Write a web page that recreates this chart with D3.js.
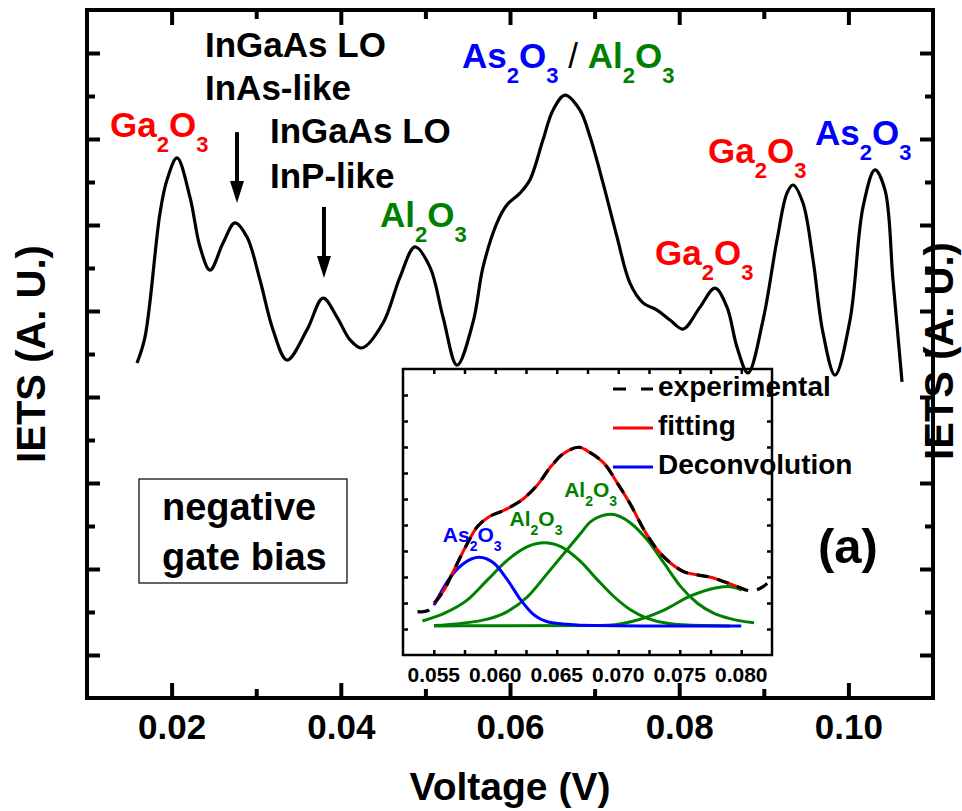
<!DOCTYPE html>
<html>
<head>
<meta charset="utf-8">
<script src="https://cdn.jsdelivr.net/npm/d3@7"></script>
<style>
  body { margin: 0; background: #fff; }
  svg text { font-family: "Liberation Sans", Arial, Helvetica, sans-serif; font-weight: bold; }
</style>
</head>
<body>
<svg id="chart" width="962" height="811"></svg>
<script>
// ---- Main IETS spectrum, negative gate bias ----
const voltage = [0.01591,0.01686,0.01863,0.01946,0.02064,0.02217,0.02336,0.02454,0.02608,0.02749,
  0.02891,0.03045,0.03199,0.03364,0.03600,0.03790,0.03955,0.04109,0.04251,0.04499,
  0.04700,0.04877,0.05054,0.05208,0.05374,0.05563,0.05681,0.05846,0.05965,0.06118,
  0.06236,0.06390,0.06508,0.06650,0.06827,0.06946,0.07099,0.07265,0.07418,0.07572,
  0.07738,0.07891,0.08045,0.08246,0.08423,0.08565,0.08683,0.08813,0.08991,0.09156,
  0.09274,0.09345,0.09463,0.09582,0.09700,0.09842,0.10019,0.10173,0.10314,0.10433,
  0.10527,0.10634];
const iets = [7.79,8.40,11.28,12.05,12.56,11.65,10.49,9.95,10.58,11.05,
  10.72,9.72,8.56,7.86,8.56,9.30,8.86,8.33,8.14,8.72,
  9.79,10.49,10.02,8.86,7.74,8.74,10.02,11.05,11.47,11.74,
  12.05,12.98,13.67,14.02,13.67,13.05,11.98,10.72,9.65,9.19,
  9.02,8.79,8.58,9.09,9.53,9.09,8.16,7.56,8.79,10.65,
  11.74,11.93,11.51,10.19,8.49,7.51,8.79,11.42,12.28,11.81,
  9.72,7.35];

const xMajor = [0.02, 0.04, 0.06, 0.08, 0.10];
const xMinor = [0.03, 0.05, 0.07, 0.09];
const yMajor = [1, 3, 5, 7, 9, 11, 13, 15];
const yMinor = [2, 4, 6, 8, 10, 12, 14];

// ---- Inset: 0.053-0.082 V region with peak deconvolution ----
const expV = [0.05368,0.05449,0.05516,0.05584,0.05665,0.05760,0.05855,0.05950,0.06045,0.06153,
  0.06234,0.06343,0.06451,0.06559,0.06681,0.06776,0.06885,0.06994,0.07102,0.07210,
  0.07319,0.07427,0.07535,0.07644,0.07752,0.07860,0.07969,0.08037,0.08102,0.08175,0.08240];
const expY = [1.67,1.70,2.05,2.50,3.27,4.17,4.94,5.32,5.51,5.77,
  6.03,6.54,7.24,7.76,7.99,7.77,7.37,6.60,5.77,4.81,
  4.04,3.53,3.20,3.08,2.99,2.82,2.63,2.50,2.48,2.62,2.88];

const fitV = [0.05502,0.05584,0.05665,0.05760,0.05855,0.05950,0.06045,0.06153,0.06234,0.06343,
  0.06451,0.06559,0.06681,0.06776,0.06885,0.06994,0.07102,0.07210,0.07319,0.07427,
  0.07535,0.07644,0.07752,0.07860,0.07969,0.08037];
const fitY = [2.00,2.50,3.27,4.17,4.94,5.32,5.51,5.77,6.03,6.54,
  7.24,7.76,7.99,7.77,7.37,6.60,5.77,4.81,4.04,3.53,
  3.20,3.08,2.99,2.82,2.63,2.50];

const as2o3V = [0.05502,0.05638,0.05746,0.05868,0.05990,0.06099,0.06207,0.06315,0.06424,0.06587,0.0680,0.0720,0.0760,0.0800];
const as2o3Y = [1.92,3.01,3.53,3.76,3.53,2.89,2.12,1.54,1.28,1.18,1.13,1.12,1.12,1.12];

const al2o3aV = [0.05408,0.05584,0.05774,0.05937,0.06099,0.06262,0.06397,0.06533,0.06695,0.06831,
  0.06966,0.07102,0.07237,0.07400,0.07671,0.07907];
const al2o3aY = [1.31,1.60,2.12,2.89,3.65,4.17,4.32,4.17,3.59,2.89,
  2.24,1.73,1.41,1.22,1.13,1.12];

const al2o3bV = [0.05502,0.05909,0.06099,0.06262,0.06424,0.06559,0.06695,0.06776,0.06939,0.07102,
  0.07237,0.07372,0.07508,0.07644,0.07779,0.07915,0.08104];
const al2o3bY = [1.13,1.35,1.67,2.24,3.14,3.91,4.68,5.13,5.41,5.07,
  4.42,3.53,2.63,1.99,1.60,1.39,1.24];

const al2o3cV = [0.05502,0.06858,0.07102,0.07372,0.07589,0.07779,0.07888,0.08004];
const al2o3cY = [1.12,1.13,1.28,1.73,2.27,2.57,2.63,2.50];

const insetXTicks = [0.055,0.0575,0.060,0.0625,0.065,0.0675,0.070,0.0725,0.075,0.0775,0.080];
const insetXLabels = [0.055,0.060,0.065,0.070,0.075,0.080];
const insetYTicks = [1,2,3,4,5,6,7,8,9,10];

const legendItems = ["experimental", "fitting", "Deconvolution"];

// ---- Layout ----
const svg = d3.select("#chart");
const P = { l: 87, r: 933, t: 10, b: 698 };
const x = d3.scaleLinear().domain([0.01, 0.11]).range([P.l, P.r]);
const y = d3.scaleLinear().domain([0, 16]).range([P.b, P.t]);

const I = { l: 403, r: 772, t: 369, b: 655 };
const ix = d3.scaleLinear().domain([0.0525, 0.0825]).range([I.l, I.r]);
const iy = d3.scaleLinear().domain([0, 11]).range([I.b, I.t]);

function tidy(g, w) {
  g.select(".domain").remove();
  g.selectAll(".tick line").attr("stroke", "#000").attr("stroke-width", w);
}

// ---- Main axes ----
svg.append("g").attr("transform", `translate(0,${P.b})`)
  .call(d3.axisBottom(x).tickValues(xMajor).tickSize(-15).tickPadding(16).tickFormat(d3.format(".2f")))
  .call(g => tidy(g, 4))
  .call(g => g.selectAll("text").attr("font-size", 35).attr("fill", "#000")
     .attr("font-family", "Liberation Sans, Arial, sans-serif").attr("font-weight", "bold"));
svg.append("g").attr("transform", `translate(0,${P.b})`)
  .call(d3.axisBottom(x).tickValues(xMinor).tickSize(-9).tickFormat(""))
  .call(g => tidy(g, 4));
svg.append("g").attr("transform", `translate(0,${P.t})`)
  .call(d3.axisTop(x).tickValues(xMajor).tickSize(-15).tickFormat(""))
  .call(g => tidy(g, 4));
svg.append("g").attr("transform", `translate(0,${P.t})`)
  .call(d3.axisTop(x).tickValues(xMinor).tickSize(-9).tickFormat(""))
  .call(g => tidy(g, 4));
svg.append("g").attr("transform", `translate(${P.l},0)`)
  .call(d3.axisLeft(y).tickValues(yMajor).tickSize(-13).tickFormat(""))
  .call(g => tidy(g, 4));
svg.append("g").attr("transform", `translate(${P.l},0)`)
  .call(d3.axisLeft(y).tickValues(yMinor).tickSize(-8).tickFormat(""))
  .call(g => tidy(g, 4));
svg.append("g").attr("transform", `translate(${P.r},0)`)
  .call(d3.axisRight(y).tickValues(yMajor).tickSize(-13).tickFormat(""))
  .call(g => tidy(g, 4));
svg.append("g").attr("transform", `translate(${P.r},0)`)
  .call(d3.axisRight(y).tickValues(yMinor).tickSize(-8).tickFormat(""))
  .call(g => tidy(g, 4));

svg.append("rect").attr("x", P.l).attr("y", P.t).attr("width", P.r - P.l).attr("height", P.b - P.t)
  .attr("fill", "none").attr("stroke", "#000").attr("stroke-width", 4);

// Axis titles
svg.append("text").attr("x", x(0.06)).attr("y", 800).attr("text-anchor", "middle")
  .attr("font-size", 39).attr("fill", "#000").text("Voltage (V)");
svg.append("text").attr("transform", `translate(45,${y(8.0)}) rotate(-90)`).attr("text-anchor", "middle")
  .attr("font-size", 40).attr("fill", "#000").text("IETS (A. U.)");
svg.append("text").attr("transform", `translate(953,${y(8.07)}) rotate(-90)`).attr("text-anchor", "middle")
  .attr("font-size", 40).attr("fill", "#000").text("IETS (A. U.)");

// ---- Annotations ----
const RED = "#ff0000", BLUE = "#0000ff", GREEN = "#008000";
function chem(px, py, parts, size, subSize) {
  const t = svg.append("text").attr("x", px).attr("y", py).attr("font-size", size);
  const shift = size * 0.42;
  let down = false;
  parts.forEach(([s, sub, color, weight]) => {
    const ts = t.append("tspan").text(s).attr("fill", color);
    if (weight) ts.attr("font-weight", weight);
    if (sub) {
      ts.attr("font-size", subSize);
      if (!down) { ts.attr("dy", shift); down = true; }
    } else if (down) { ts.attr("dy", -shift); down = false; }
  });
  return t;
}
const ga = c => [["Ga", false, c], ["2", true, c], ["O", false, c], ["3", true, c]];
const as = c => [["As", false, c], ["2", true, c], ["O", false, c], ["3", true, c]];
const al = c => [["Al", false, c], ["2", true, c], ["O", false, c], ["3", true, c]];

chem(x(0.01272), y(13.05), ga(RED), 35, 22);
chem(x(0.04463), y(10.95), al(GREEN), 35, 22);
chem(x(0.05433), y(14.65), [...as(BLUE), [" / ", false, "#000", "normal"], ...al(GREEN)], 35, 22);
chem(x(0.07714), y(10.07), ga(RED), 35, 22);
chem(x(0.08340), y(12.44), ga(RED), 35, 22);
chem(x(0.09605), y(12.86), as(BLUE), 35, 22);

function blackText(px, py, s) {
  svg.append("text").attr("x", px).attr("y", py).attr("font-size", 35).attr("fill", "#000").text(s);
}
blackText(x(0.02395), y(14.91), "InGaAs LO");
blackText(x(0.02395), y(13.91), "InAs-like");
blackText(x(0.03163), y(12.91), "InGaAs LO");
blackText(x(0.03163), y(11.86), "InP-like");

function arrow(v, y0, y1) {
  const px = x(v), top = y(y0), tip = y(y1);
  svg.append("line").attr("x1", px).attr("x2", px).attr("y1", top).attr("y2", tip - 18)
    .attr("stroke", "#000").attr("stroke-width", 4);
  svg.append("path").attr("d", `M${px - 7},${tip - 22} L${px + 7},${tip - 22} L${px},${tip} Z`).attr("fill", "#000");
}
arrow(0.02773, 13.16, 11.51);
arrow(0.03801, 11.42, 9.77);

// Condition box
svg.append("rect").attr("x", 139).attr("y", 479).attr("width", 208).attr("height", 104)
  .attr("fill", "#fff").attr("stroke", "#000").attr("stroke-width", 1.2);
svg.append("text").attr("x", 162).attr("y", 520).attr("font-size", 38).attr("fill", "#000").text("negative");
svg.append("text").attr("x", 162).attr("y", 570).attr("font-size", 38).attr("fill", "#000").text("gate bias");

svg.append("text").attr("x", 818).attr("y", 563).attr("font-size", 49).attr("fill", "#000").text("(a)");

// ---- Inset ----
const inset = svg.append("g");
inset.append("rect").attr("x", I.l).attr("y", I.t).attr("width", I.r - I.l).attr("height", I.b - I.t)
  .attr("fill", "#fff");

const iline = (vs, ys, curve) => d3.line().x((d, i) => ix(vs[i])).y((d, i) => iy(ys[i])).curve(curve)(vs);
const smooth = d3.curveCatmullRom.alpha(0.5);
const mono = d3.curveMonotoneX;

[[al2o3aV, al2o3aY], [al2o3bV, al2o3bY], [al2o3cV, al2o3cY]].forEach(([v, yy]) => {
  inset.append("path").attr("d", iline(v, yy, mono)).attr("fill", "none")
    .attr("stroke", GREEN).attr("stroke-width", 3);
});
inset.append("path").attr("d", iline(as2o3V, as2o3Y, mono)).attr("fill", "none")
  .attr("stroke", BLUE).attr("stroke-width", 3);
inset.append("path").attr("d", iline(fitV, fitY, smooth)).attr("fill", "none")
  .attr("stroke", RED).attr("stroke-width", 3);
inset.append("path").attr("d", iline(expV, expY, smooth)).attr("fill", "none")
  .attr("stroke", "#000").attr("stroke-width", 3.2).attr("stroke-dasharray", "12,9");

// inset axes
inset.append("g").attr("transform", `translate(0,${I.b})`)
  .call(d3.axisBottom(ix).tickValues(insetXTicks).tickSize(-5).tickFormat(""))
  .call(g => tidy(g, 2.5));
inset.append("g").attr("transform", `translate(0,${I.t})`)
  .call(d3.axisTop(ix).tickValues(insetXTicks).tickSize(-5).tickFormat(""))
  .call(g => tidy(g, 2.5));
inset.append("g").attr("transform", `translate(${I.l},0)`)
  .call(d3.axisLeft(iy).tickValues(insetYTicks).tickSize(-5).tickFormat(""))
  .call(g => tidy(g, 2.5));
inset.append("g").attr("transform", `translate(${I.r},0)`)
  .call(d3.axisRight(iy).tickValues(insetYTicks).tickSize(-5).tickFormat(""))
  .call(g => tidy(g, 2.5));
inset.selectAll(".ilabel").data(insetXLabels).join("text")
  .attr("x", d => ix(d)).attr("y", 682).attr("text-anchor", "middle")
  .attr("font-size", 21).attr("fill", "#000").text(d3.format(".3f"));
inset.append("rect").attr("x", I.l).attr("y", I.t).attr("width", I.r - I.l).attr("height", I.b - I.t)
  .attr("fill", "none").attr("stroke", "#000").attr("stroke-width", 2.5);

// inset peak labels
chem(ix(0.05574), iy(4.35), as(BLUE), 21, 14);
chem(ix(0.06116), iy(4.97), al(GREEN), 21, 14);
chem(ix(0.06560), iy(6.08), al(GREEN), 21, 14);

// inset legend
const legStyles = [
  { color: "#000", dash: "13,15" },
  { color: RED, dash: null },
  { color: BLUE, dash: null }
];
const legY = [389, 428, 467];
legendItems.forEach((name, i) => {
  const ln = inset.append("line").attr("x1", 613).attr("x2", 653).attr("y1", legY[i]).attr("y2", legY[i])
    .attr("stroke", legStyles[i].color).attr("stroke-width", 3.2);
  if (legStyles[i].dash) ln.attr("stroke-dasharray", legStyles[i].dash);
  inset.append("text").attr("x", 658).attr("y", legY[i] + 7).attr("font-size", 28)
    .attr("fill", "#000").text(name);
});

// ---- Main spectrum curve (drawn last, on top) ----
const mainLine = d3.line().x((d, i) => x(voltage[i])).y((d, i) => y(iets[i]))
  .curve(d3.curveCatmullRom.alpha(0.5));
svg.append("path").attr("d", mainLine(voltage)).attr("fill", "none")
  .attr("stroke", "#000").attr("stroke-width", 3.2).attr("stroke-linejoin", "round");
</script>
</body>
</html>
